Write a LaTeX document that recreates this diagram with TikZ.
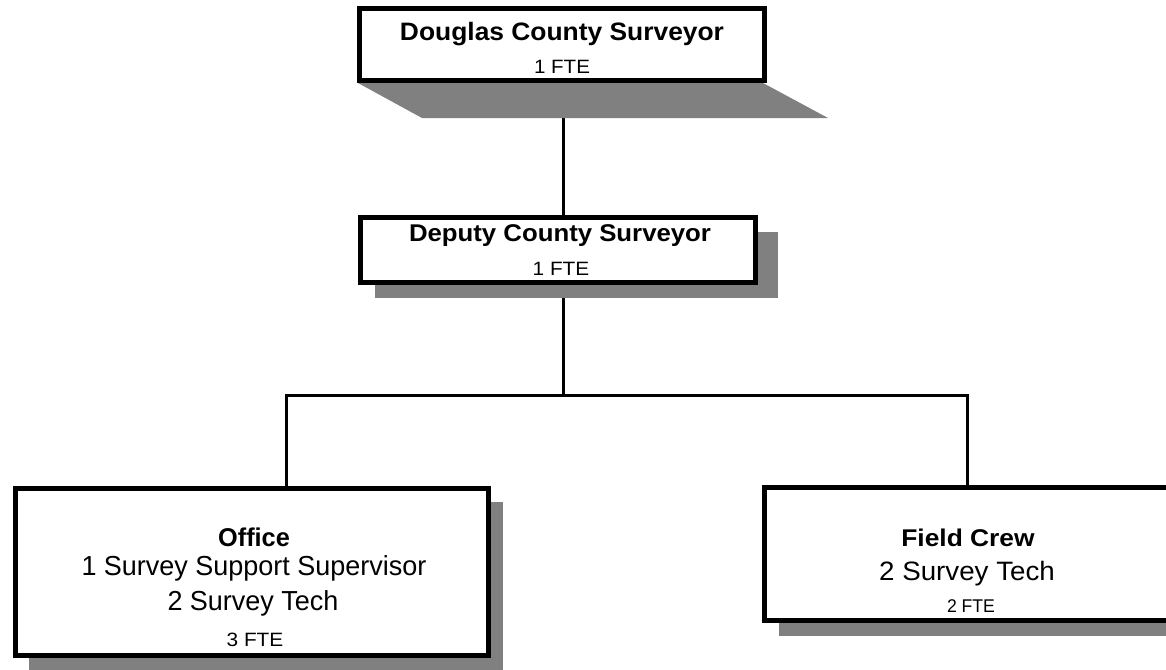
\documentclass[tikz,border=0pt]{standalone}
\usepackage{fontspec}
\setmainfont{Liberation Sans}
\pgfdeclarelayer{bg}
\pgfsetlayers{bg,main}
\newcommand\fitw[3]{\resizebox{#1pt}{\height}{\fontsize{#2}{#2}\selectfont #3}}
\begin{document}
\begin{tikzpicture}[x=1pt,y=-1pt,
  box/.style={draw=black,line width=5pt,fill=white,inner sep=0pt,rectangle},
  conn/.style={draw=black,line width=3pt},
  shade/.style={fill=black!50,draw=none},
  lbl/.style={anchor=base,inner sep=0pt}]
\useasboundingbox (0,0) rectangle (1166,669);
\coordinate (bus) at (563,395);
\coordinate (bl) at (286,395);
\coordinate (br) at (967,395);
% shadows
\fill[shade] (358,83) -- (763,83) -- (828,118) -- (422,118) -- cycle;
\fill[shade] (375,232) rectangle (778,298);
\fill[shade] (29,502) rectangle (503,675);
\fill[shade] (779,500) rectangle (1190,636);
% boxes
\node[box,minimum width=405pt,minimum height=72pt] (top) at (562,44.5) {};
\node[box,minimum width=395pt,minimum height=65.5pt] (dep) at (558,250) {};
\node[box,minimum width=473pt,minimum height=167pt] (off) at (252,572) {};
\node[box,minimum width=405pt,minimum height=133pt] (fld) at (967,554) {};
% connectors (behind shadows and boxes)
\begin{pgfonlayer}{bg}
\draw[conn] (top.south -| bus) -- (dep.north -| bus);
\draw[conn] (dep.south -| bus) -- (bus);
\draw[conn] (bl |- off.north) -- (bl) -- (br) -- (br |- fld.north);
\end{pgfonlayer}
% texts
\node[lbl] (t1) at (562,40.7) {\fitw{324}{25.2}{\bfseries Douglas County Surveyor}};
\node[lbl] (t2) at (562,73.5) {\fitw{56}{19.3}{1 FTE}};
\node[lbl] (d1) at (560,241.7) {\fitw{302}{24.2}{\bfseries Deputy County Surveyor}};
\node[lbl] (d2) at (561,275) {\fitw{56.7}{19.3}{1 FTE}};
\node[lbl] (o1) at (254,546) {\fitw{71.7}{25.7}{\bfseries Office}};
\node[lbl] (o2) at (254,575.7) {\fitw{345}{27.5}{1 Survey Support Supervisor}};
\node[lbl] (o3) at (253,610) {\fitw{171}{27.5}{2 Survey Tech}};
\node[lbl] (o4) at (255,646.7) {\fitw{56.7}{19.3}{3 FTE}};
\node[lbl] (f1) at (968,546.7) {\fitw{133.3}{24.2}{\bfseries Field Crew}};
\node[lbl] (f2) at (967,580) {\fitw{175.7}{26.6}{2 Survey Tech}};
\node[lbl] (f3) at (971,612.3) {\fitw{48}{18.4}{2 FTE}};
\end{tikzpicture}
\end{document}
